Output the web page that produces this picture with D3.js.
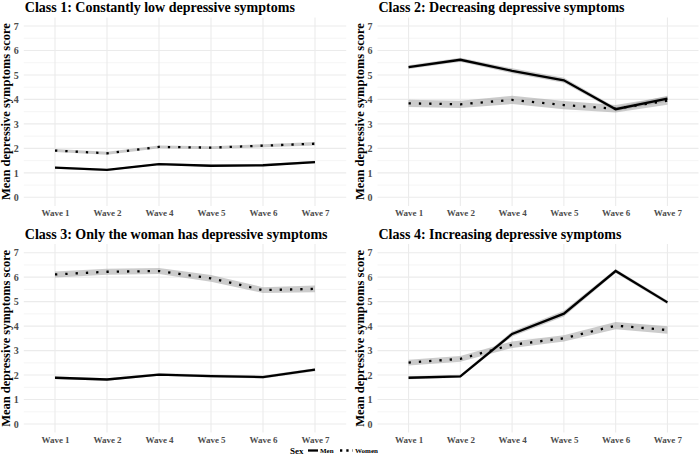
<!DOCTYPE html>
<html><head><meta charset="utf-8">
<script src="https://cdn.jsdelivr.net/npm/d3@7"></script>
<style>body{margin:0;background:#fff}svg{display:block}
svg text{font-family:"Liberation Serif","Times New Roman","DejaVu Serif",serif !important;}</style>
</head><body>
<script>
const waves = ["Wave 1","Wave 2","Wave 4","Wave 5","Wave 6","Wave 7"];
const yTicks = [0,1,2,3,4,5,6,7];
const classTitles = [
  "Class 1: Constantly low depressive symptoms",
  "Class 2: Decreasing depressive symptoms",
  "Class 3: Only the woman has depressive symptoms",
  "Class 4: Increasing depressive symptoms"
];
const sexLabels = ["Men","Women"];
// mean scores
const class1Men   = [1.21,1.12,1.36,1.29,1.31,1.44];
const class1Women = [1.91,1.80,2.06,2.03,2.11,2.19];
const class2Men   = [5.32,5.62,5.17,4.78,3.60,4.03];
const class2Women = [3.84,3.80,3.98,3.77,3.62,3.95];
const class3Men   = [1.89,1.82,2.02,1.96,1.92,2.22];
const class3Women = [6.11,6.22,6.25,5.95,5.47,5.52];
const class4Men   = [1.89,1.95,3.68,4.51,6.25,4.97];
const class4Women = [2.51,2.66,3.24,3.50,4.02,3.84];
// confidence-band half widths
const class1MenCI   = [0.04,0.04,0.04,0.04,0.04,0.05];
const class1WomenCI = [0.06,0.06,0.06,0.06,0.06,0.07];
const class2MenCI   = [0.08,0.08,0.10,0.10,0.08,0.12];
const class2WomenCI = [0.15,0.15,0.17,0.17,0.15,0.17];
const class3MenCI   = [0.05,0.05,0.05,0.06,0.06,0.06];
const class3WomenCI = [0.12,0.12,0.12,0.14,0.12,0.14];
const class4MenCI   = [0.06,0.06,0.10,0.12,0.08,0.08];
const class4WomenCI = [0.12,0.12,0.13,0.13,0.15,0.15];

const panels = [
  {title: classTitles[0], men: class1Men, women: class1Women, menCI: class1MenCI, womenCI: class1WomenCI, col: 0, row: 0},
  {title: classTitles[1], men: class2Men, women: class2Women, menCI: class2MenCI, womenCI: class2WomenCI, col: 1, row: 0},
  {title: classTitles[2], men: class3Men, women: class3Women, menCI: class3MenCI, womenCI: class3WomenCI, col: 0, row: 1},
  {title: classTitles[3], men: class4Men, women: class4Women, menCI: class4MenCI, womenCI: class4WomenCI, col: 1, row: 1}
];

const W = 699, H = 463;
const serif = "Liberation Serif";
const svg = d3.select("body").append("svg").attr("width", W).attr("height", H);

const colX = [[23.8, 346.2], [377.5, 698.5]];
const rowY = [[17.4, 205.9], [244.1, 432.6]];
const tickColor = "#4d4d4d";

panels.forEach(p => {
  const [x0, x1] = colX[p.col];
  const [y0, y1] = rowY[p.row];
  const x = d3.scalePoint().domain(waves).range([x0, x1]).padding(0.6);
  const y = d3.scaleLinear().domain([-0.35, 7.35]).range([y1, y0]);
  const g = svg.append("g");

  const minor = d3.range(0.5, 7, 1);
  g.selectAll(".minor").data(minor).join("line")
    .attr("x1", x0).attr("x2", x1).attr("y1", d => y(d)).attr("y2", d => y(d))
    .attr("stroke", "#ebebeb").attr("stroke-width", 0.55);
  g.selectAll(".majorY").data(yTicks).join("line")
    .attr("x1", x0).attr("x2", x1).attr("y1", d => y(d)).attr("y2", d => y(d))
    .attr("stroke", "#ebebeb").attr("stroke-width", 1.07);
  g.selectAll(".majorX").data(waves).join("line")
    .attr("x1", d => x(d)).attr("x2", d => x(d)).attr("y1", y0).attr("y2", y1)
    .attr("stroke", "#ebebeb").attr("stroke-width", 1.07);

  const yAxis = d3.axisLeft(y).tickValues(yTicks).tickSize(0).tickPadding(5).tickFormat(d3.format("d"));
  const ya = g.append("g").attr("transform", `translate(${x0},0)`).call(yAxis);
  ya.select(".domain").remove();
  ya.attr("font-family", null);
  ya.selectAll("text").attr("font-size", 10).attr("font-weight", "bold").attr("fill", tickColor);

  const xAxis = d3.axisBottom(x).tickSize(0).tickPadding(4);
  const xa = g.append("g").attr("transform", `translate(0,${y1})`).call(xAxis);
  xa.select(".domain").remove();
  xa.attr("font-family", null);
  xa.selectAll("text").attr("font-size", 9).attr("font-weight", "bold").attr("fill", tickColor);

  g.append("text").attr("x", x0 + 1).attr("y", y0 - 5.5)
    .attr("font-size", 14).attr("font-weight", "bold").attr("fill", "#000")
    .text(p.title);

  g.append("text")
    .attr("transform", `translate(${x0 - 13.5},${(y0 + y1) / 2}) rotate(-90)`)
    .attr("text-anchor", "middle")
    .attr("font-size", 12.5).attr("font-weight", "bold").attr("fill", "#000")
    .text("Mean depressive symptoms score");

  const area = d3.area().x((d, i) => x(waves[i])).y0(d => y(d[0] - d[1])).y1(d => y(d[0] + d[1]));
  const line = d3.line().x((d, i) => x(waves[i])).y(d => y(d));

  const menBand = p.men.map((v, i) => [v, p.menCI[i]]);
  const womenBand = p.women.map((v, i) => [v, p.womenCI[i]]);
  g.append("path").attr("d", area(menBand)).attr("fill", "#999").attr("fill-opacity", 0.5);
  g.append("path").attr("d", area(womenBand)).attr("fill", "#999").attr("fill-opacity", 0.5);

  g.append("path").attr("d", line(p.women)).attr("fill", "none").attr("stroke", "#000")
    .attr("stroke-width", 2.3).attr("stroke-dasharray", "2.3,8");
  g.append("path").attr("d", line(p.men)).attr("fill", "none").attr("stroke", "#000")
    .attr("stroke-width", 2.3);
});

const lg = svg.append("g");
const ly = 450.5;
lg.append("text").attr("x", 290).attr("y", ly + 3.5).attr("font-size", 9)
  .attr("font-weight", "bold").text("Sex");
lg.append("line").attr("x1", 308).attr("x2", 318).attr("y1", ly).attr("y2", ly)
  .attr("stroke", "#000").attr("stroke-width", 2.3);
lg.append("text").attr("x", 320).attr("y", ly + 2.5).attr("font-size", 7)
  .attr("font-weight", "bold").text(sexLabels[0]);
lg.append("line").attr("x1", 340).attr("x2", 353).attr("y1", ly).attr("y2", ly)
  .attr("stroke", "#000").attr("stroke-width", 2.3).attr("stroke-dasharray", "2.3,4");
lg.append("text").attr("x", 355).attr("y", ly + 2.5).attr("font-size", 7)
  .attr("font-weight", "bold").text(sexLabels[1]);
</script>
</body></html>
